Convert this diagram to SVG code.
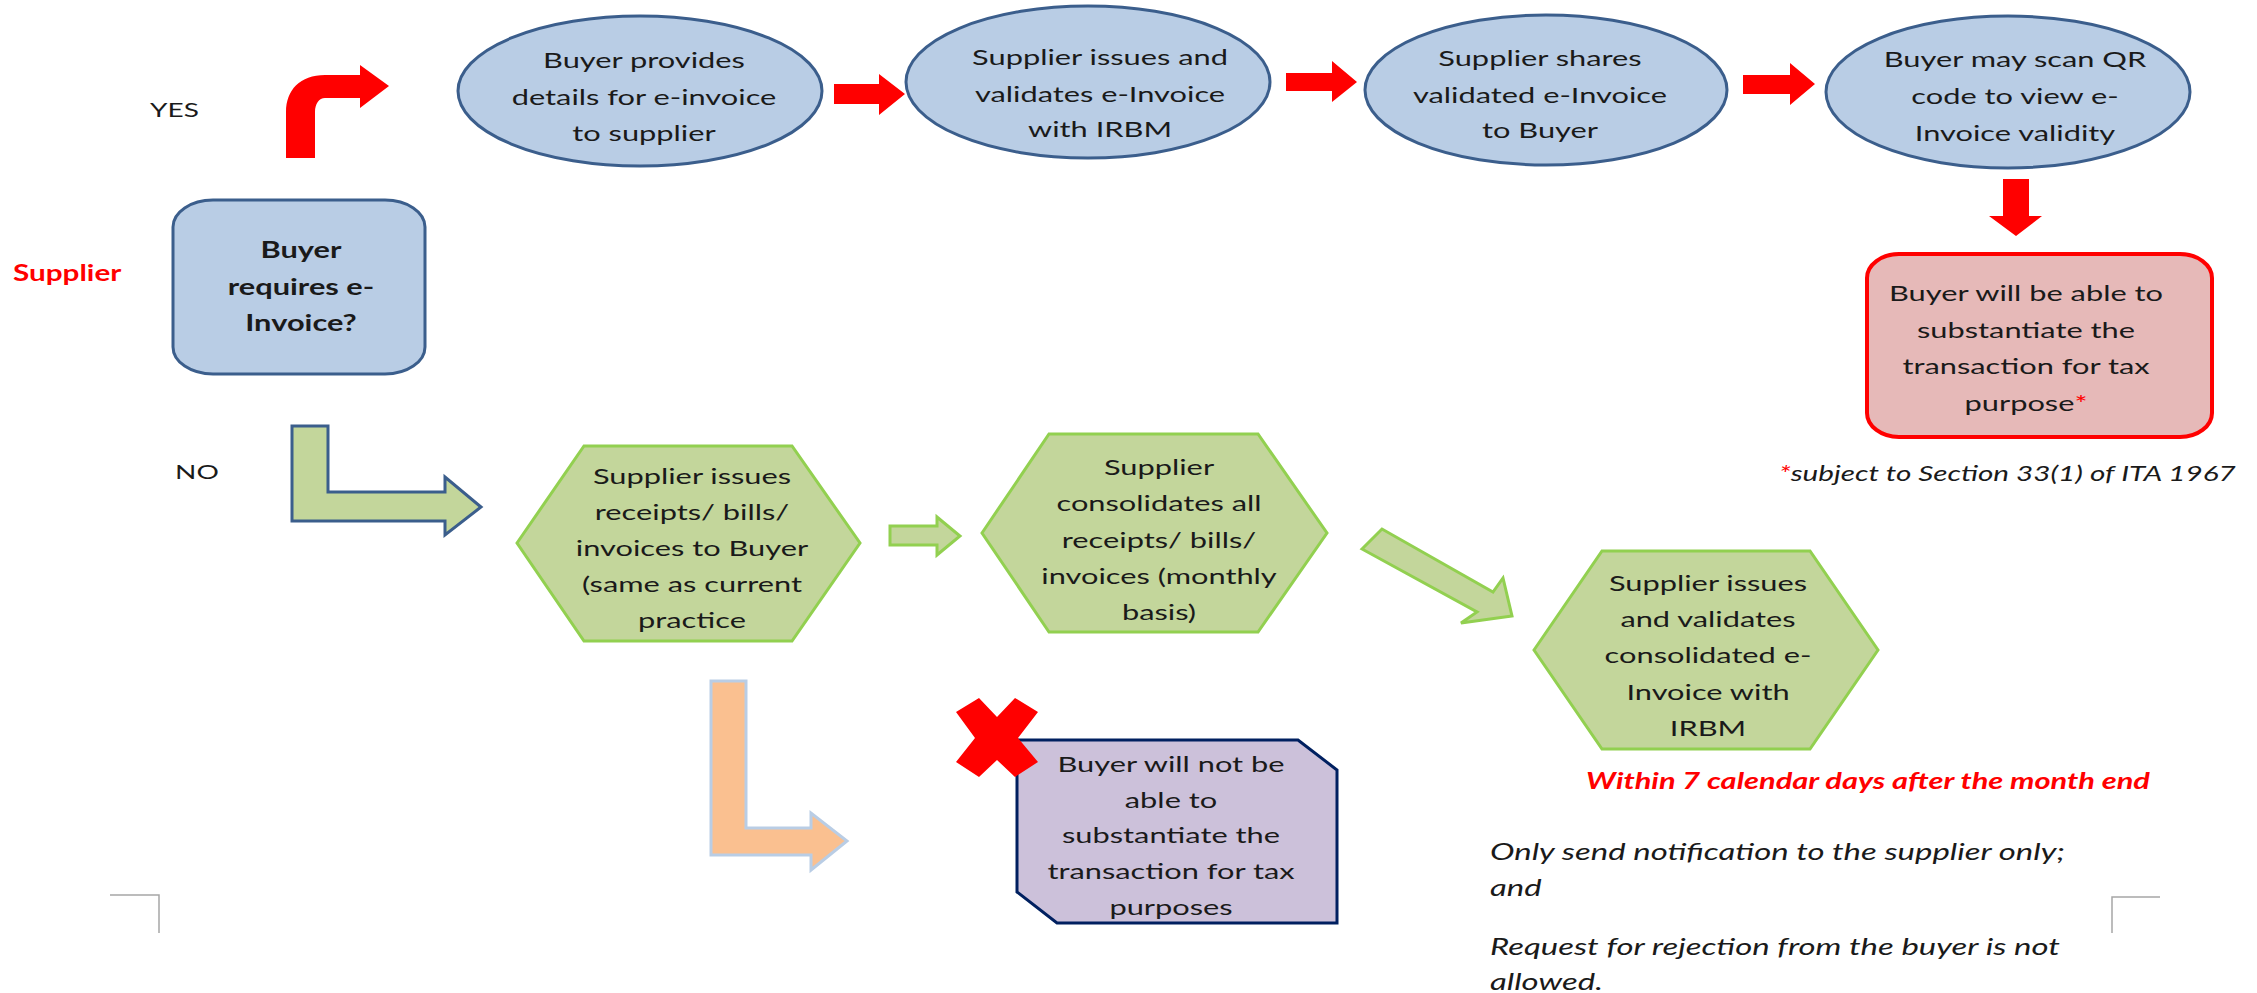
<svg xmlns="http://www.w3.org/2000/svg" width="2257" height="993" viewBox="0 0 2257 993">
<style>
.t{font-family:Lato,"Liberation Sans",sans-serif;font-size:22px;fill:#1a1a1a;text-anchor:middle}
.l{font-family:Lato,"Liberation Sans",sans-serif;font-size:22px;fill:#1a1a1a;text-anchor:start}
.b{font-weight:bold}
.i{font-style:italic}
.red{fill:#ff0000}
.ell{fill:#b9cde5;stroke:#3b5e8c;stroke-width:3}
.hex{fill:#c3d69b;stroke:#92d050;stroke-width:3}
.rarr{fill:#ff0000}
.garr{fill:#c3d69b;stroke:#92d050;stroke-width:3}
.corner{fill:none;stroke:#a6a6a6;stroke-width:1.5}
</style>
<rect width="2257" height="993" fill="#ffffff"/>

<g id="labels">
  <g transform="translate(150,0) scale(1.4,1)"><text class="l" x="0" y="117" style="font-size:20px">YES</text></g>
  <g transform="translate(175,0) scale(1.4,1)"><text class="l" x="0" y="479" style="font-size:20px">NO</text></g>
  <g transform="translate(13,0) scale(1.35,1)"><text class="l b red" x="0" y="281">Supplier</text></g>
</g>

<g id="connectors">
  <path class="rarr" d="M286,158 V112 C286,90 300,75 325,75 H360 V65 L389,86 L360,108 V98 H325 C319,98 315,104 315,112 V158 Z"/>
  <polygon class="rarr" points="834,84 879,84 879,74 905,94 879,115 879,104 834,104"/>
  <polygon class="rarr" points="1286,73 1332,73 1332,61 1357,82 1332,102 1332,91 1286,91"/>
  <polygon class="rarr" points="1743,75 1790,75 1790,63 1815,84 1790,105 1790,94 1743,94"/>
  <polygon class="rarr" points="2003,179 2029,179 2029,216 2042,216 2016,236 1989,216 2003,216"/>
  <path d="M292,426 H328 V492 H445 V477 L481,507 L445,535 V521 H292 Z" fill="#c3d69b" stroke="#3b5e8c" stroke-width="3"/>
  <polygon class="garr" points="890,526 937,526 937,517 960,536 937,555 937,545 890,545"/>
  <polygon class="garr" points="1362,549 1382,529 1493,592 1503,578 1512,616 1461,623 1477,612"/>
  <path d="M711,681 H746 V828 H811 V813 L847,841 L811,870 V855 H711 Z" fill="#fac090" stroke="#b9cde5" stroke-width="3"/>
</g>

<g id="decision">
  <rect x="173" y="200" width="252" height="174" rx="40" ry="27" class="ell"/>
  <g transform="translate(301,0) scale(1.4,1)">
    <text class="t b" x="0" y="258">Buyer</text>
    <text class="t b" x="0" y="295">requires e-</text>
    <text class="t b" x="0" y="331">Invoice?</text>
  </g>
</g>

<g id="buyer-provides">
  <ellipse cx="640" cy="91" rx="182" ry="75" class="ell"/>
  <g transform="translate(644,0) scale(1.4,1)">
    <text class="t" x="0" y="68">Buyer provides</text>
    <text class="t" x="0" y="105">details for e-invoice</text>
    <text class="t" x="0" y="141">to supplier</text>
  </g>
</g>

<g id="supplier-issues">
  <ellipse cx="1088" cy="82" rx="182" ry="76" class="ell"/>
  <g transform="translate(1100,0) scale(1.4,1)">
    <text class="t" x="0" y="65">Supplier issues and</text>
    <text class="t" x="0" y="102">validates e-Invoice</text>
    <text class="t" x="0" y="137">with IRBM</text>
  </g>
</g>

<g id="supplier-shares">
  <ellipse cx="1546" cy="90" rx="181" ry="75" class="ell"/>
  <g transform="translate(1540,0) scale(1.4,1)">
    <text class="t" x="0" y="66">Supplier shares</text>
    <text class="t" x="0" y="103">validated e-Invoice</text>
    <text class="t" x="0" y="138">to Buyer</text>
  </g>
</g>

<g id="buyer-scan">
  <ellipse cx="2008" cy="92" rx="182" ry="76" class="ell"/>
  <g transform="translate(2015,0) scale(1.4,1)">
    <text class="t" x="0" y="67">Buyer may scan QR</text>
    <text class="t" x="0" y="104">code to view e-</text>
    <text class="t" x="0" y="141">Invoice validity</text>
  </g>
</g>

<g id="buyer-able">
  <rect x="1867" y="254" width="345" height="183" rx="32" ry="24" fill="#e6b9b8" stroke="#ff0000" stroke-width="4"/>
  <g transform="translate(2026,0) scale(1.4,1)">
    <text class="t" x="0" y="301">Buyer will be able to</text>
    <text class="t" x="0" y="338">substantiate the</text>
    <text class="t" x="0" y="374">transaction for tax</text>
    <text class="t" x="0" y="411">purpose<tspan class="red">*</tspan></text>
  </g>
</g>

<g id="footnote">
  <g transform="translate(1779,0) scale(1.35,1)">
    <text class="l i" x="0" y="481"><tspan class="red">*</tspan>subject to Section 33(1) of ITA 1967</text>
  </g>
</g>

<g id="issue-receipts">
  <polygon class="hex" points="517,543 584,446 792,446 860,543 792,641 584,641"/>
  <g transform="translate(692,0) scale(1.4,1)">
    <text class="t" x="0" y="484">Supplier issues</text>
    <text class="t" x="0" y="520">receipts/ bills/</text>
    <text class="t" x="0" y="556">invoices to Buyer</text>
    <text class="t" x="0" y="592">(same as current</text>
    <text class="t" x="0" y="628">practice</text>
  </g>
</g>

<g id="consolidates">
  <polygon class="hex" points="982,533 1049,434 1258,434 1327,533 1258,632 1049,632"/>
  <g transform="translate(1159,0) scale(1.4,1)">
    <text class="t" x="0" y="475">Supplier</text>
    <text class="t" x="0" y="511">consolidates all</text>
    <text class="t" x="0" y="548">receipts/ bills/</text>
    <text class="t" x="0" y="584">invoices (monthly</text>
    <text class="t" x="0" y="620">basis)</text>
  </g>
</g>

<g id="consolidated-einvoice">
  <polygon class="hex" points="1534,650 1602,551 1810,551 1878,650 1810,749 1602,749"/>
  <g transform="translate(1708,0) scale(1.4,1)">
    <text class="t" x="0" y="591">Supplier issues</text>
    <text class="t" x="0" y="627">and validates</text>
    <text class="t" x="0" y="663">consolidated e-</text>
    <text class="t" x="0" y="700">Invoice with</text>
    <text class="t" x="0" y="736">IRBM</text>
  </g>
</g>

<g id="within-7-days">
  <g transform="translate(1868,0) scale(1.4,1)">
    <text class="t b i red" x="0" y="789">Within 7 calendar days after the month end</text>
  </g>
</g>

<g id="not-able">
  <path d="M1017,740 H1298 L1337,770 V923 H1057 L1017,892 Z" fill="#ccc1da" stroke="#002060" stroke-width="3"/>
  <polygon points="956,712 979,698 997,717 1015,698 1038,712 1018,738 1038,762 1015,777 997,760 979,777 956,762 975,738" fill="#ff0000"/>
  <g transform="translate(1171,0) scale(1.4,1)">
    <text class="t" x="0" y="772">Buyer will not be</text>
    <text class="t" x="0" y="808">able to</text>
    <text class="t" x="0" y="843">substantiate the</text>
    <text class="t" x="0" y="879">transaction for tax</text>
    <text class="t" x="0" y="915">purposes</text>
  </g>
</g>

<g id="notes">
  <g transform="translate(1490,0) scale(1.4,1)">
    <text class="l i" x="0" y="860" style="font-size:23.5px">Only send notification to the supplier only;</text>
    <text class="l i" x="0" y="896" style="font-size:23.5px">and</text>
    <text class="l i" x="0" y="955" style="font-size:23.5px">Request for rejection from the buyer is not</text>
    <text class="l i" x="0" y="990" style="font-size:23.5px">allowed.</text>
  </g>
</g>

<g id="corners">
  <path class="corner" d="M110,895 H159 V933"/>
  <path class="corner" d="M2160,897 H2112 V933"/>
</g>
</svg>
